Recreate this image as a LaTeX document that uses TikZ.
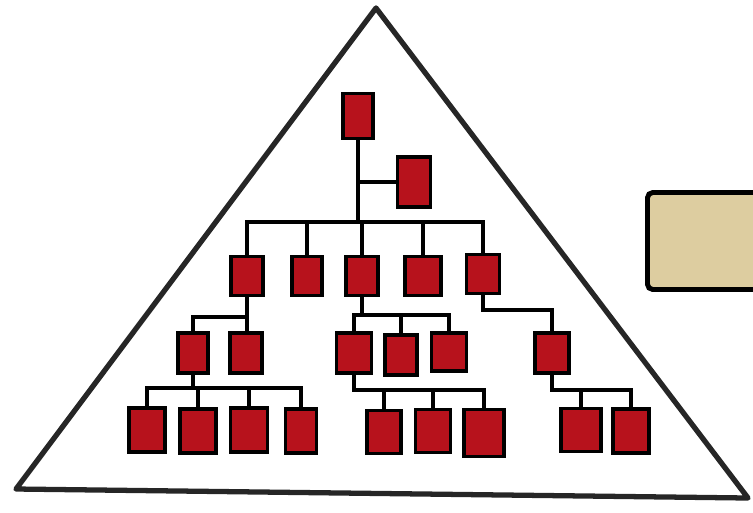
\documentclass[tikz,border=0pt]{standalone}
\usetikzlibrary{positioning}
\definecolor{boxred}{RGB}{183,18,28}
\definecolor{sand}{RGB}{221,205,160}
\tikzset{
	unit/.style={rectangle, draw=black, fill=boxred, line width=2.2pt,
		inner sep=0pt, minimum width=0.64cm, minimum height=0.78cm},
	link/.style={line width=2.6pt, black},
	frame/.style={line width=3pt, draw=black!85, line join=round},
	slab/.style={rectangle, rounded corners=3pt, draw=black, fill=sand,
		line width=2.8pt, minimum width=2.5cm, minimum height=1.94cm}
}
\begin{document}
\begin{tikzpicture}[x=0.02cm, y=-0.02cm]
			\useasboundingbox (0,0) rectangle (753,512);

			% pyramid outline
			\coordinate (apex) at (376,8);
			\coordinate (baseL) at (16,489);
			\coordinate (baseR) at (748,498);
			\draw[frame] (apex) -- (baseL) -- (baseR) -- cycle;

			\node[slab, anchor=west] (panel) at (645,241) {};

			% top of the chart
			\node[unit, minimum width=0.6cm, minimum height=0.9cm] (top) at (358,116) {};
			\node[unit, minimum width=0.66cm, minimum height=1.0cm] (aide) at (414,182) {};

			% second row
			\node[unit] (m1) at (247,276) {};
			\node[unit, minimum width=0.6cm] (m2) at (307,276) {};
			\node[unit] (m3) at (362,276) {};
			\node[unit, minimum width=0.72cm] (m4) at (423,276) {};
			\node[unit, minimum width=0.66cm] (m5) at (483,274) {};

			% third row
			\node[unit, minimum width=0.6cm, minimum height=0.8cm] (s1) at (193,353) {};
			\node[unit, minimum height=0.8cm] (s2) at (246,353) {};
			\node[unit, minimum width=0.7cm, minimum height=0.8cm] (s3) at (354,353) {};
			\node[unit, minimum height=0.8cm] (s4) at (401,355) {};
			\node[unit, minimum width=0.7cm, minimum height=0.76cm] (s5) at (449,352) {};
			\node[unit, minimum width=0.68cm, minimum height=0.8cm] (s6) at (552,353) {};

			% bottom row
			\node[unit, minimum width=0.72cm, minimum height=0.88cm] (w1) at (147,430) {};
			\node[unit, minimum width=0.72cm, minimum height=0.88cm] (w2) at (198,431) {};
			\node[unit, minimum width=0.74cm, minimum height=0.88cm] (w3) at (249,430) {};
			\node[unit, minimum width=0.62cm, minimum height=0.88cm] (w4) at (301,431) {};
			\node[unit, minimum width=0.68cm, minimum height=0.86cm] (w5) at (384,432) {};
			\node[unit, minimum width=0.7cm, minimum height=0.86cm] (w6) at (433,431) {};
			\node[unit, minimum width=0.8cm, minimum height=0.94cm] (w7) at (484,433) {};
			\node[unit, minimum width=0.8cm, minimum height=0.86cm] (w8) at (581,430) {};
			\node[unit, minimum width=0.72cm, minimum height=0.88cm] (w9) at (631,431) {};

			% reporting lines
			\coordinate (spine) at (362,222);
			\draw[link] (top.south) -- (top.south |- spine);
			\draw[link] (top.south |- aide.west) -- (aide.west);
			\draw[link] (m1.north) |- (m5.north |- spine) -- (m5.north);
			\foreach \n in {m2,m3,m4}
				\draw[link] (\n.north) -- (\n.north |- spine);

			\coordinate (busA) at (0,317);
			\draw[link] (m1.south) -- (m1.south |- s2.north);
			\draw[link] (m1.south |- busA) -| (s1.north);

			\coordinate (busB) at (0,315);
			\draw[link] (m3.south) -- (m3.south |- busB);
			\draw[link] (s3.north) |- (s5.north |- busB) -- (s5.north);
			\draw[link] (s4.north) -- (s4.north |- busB);

			\coordinate (busC) at (0,310);
			\draw[link] (m5.south) |- (s6.north |- busC) -- (s6.north);

			\coordinate (busD) at (0,388);
			\draw[link] (s1.south) -- (s1.south |- busD);
			\draw[link] (w1.north) |- (w4.north |- busD) -- (w4.north);
			\foreach \n in {w2,w3}
				\draw[link] (\n.north) -- (\n.north |- busD);

			\coordinate (busE) at (0,390);
			\draw[link] (s3.south) |- (w7.north |- busE) -- (w7.north);
			\foreach \n in {w5,w6}
				\draw[link] (\n.north) -- (\n.north |- busE);
			\draw[link] (s6.south) |- (w9.north |- busE) -- (w9.north);
			\draw[link] (w8.north) -- (w8.north |- busE);
		\end{tikzpicture}
\end{document}
